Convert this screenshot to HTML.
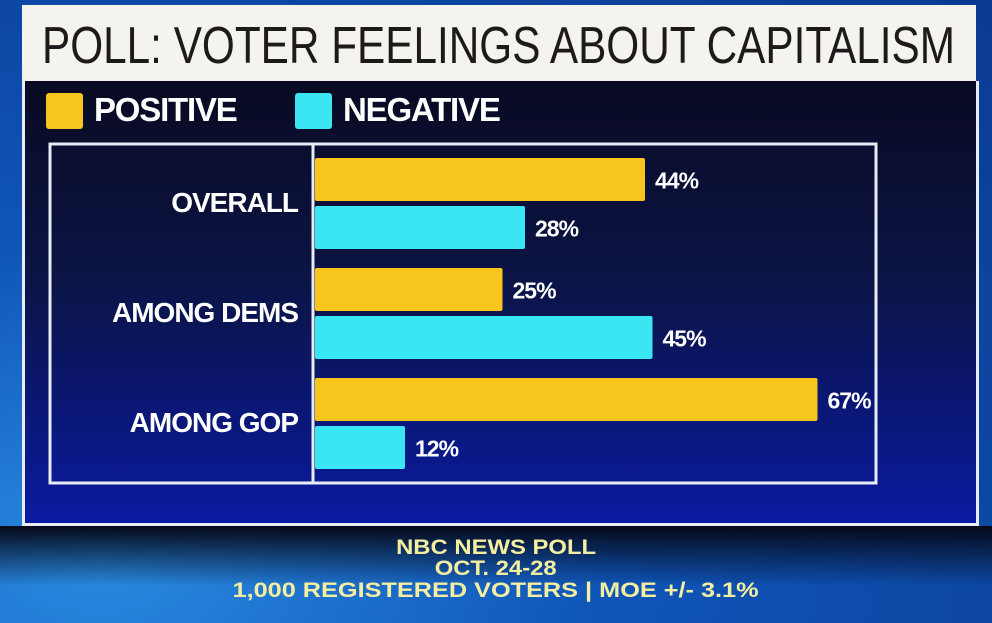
<!DOCTYPE html>
<html><head><meta charset="utf-8"><style>
html,body{margin:0;padding:0;}
body{width:992px;height:623px;position:relative;overflow:hidden;font-family:"Liberation Sans",sans-serif;
background:radial-gradient(ellipse at 10% 90%,#2a8ae0 0%,#0f55b8 40%,#0a3a90 100%);}
.abs{position:absolute;}
#title{left:22px;top:5px;width:954px;height:76px;background:#f4f3ee;overflow:hidden;}
#title span{position:absolute;left:20px;top:11px;font-size:52px;color:#1e1a1c;transform-origin:left;white-space:nowrap;}
#panel{left:22px;top:81px;width:951px;height:442px;border:3px solid #e8ecf5;border-top:none;background:linear-gradient(#090a22 0%,#0b1445 45%,#0a1aa0 100%);}
.leg{font-size:33px;font-weight:bold;color:#fff;letter-spacing:-1.2px;}
.fl{position:absolute;left:0;width:992px;text-align:center;color:#f4eea0;font-weight:bold;font-size:21px;white-space:nowrap;}
.fl span{display:inline-block;transform-origin:center;}
#footbg{left:0;top:526px;width:992px;height:60px;background:linear-gradient(#050818 0%,rgba(5,8,24,0.6) 40%,rgba(5,8,24,0) 100%);}
</style></head><body>
<div id="title" class="abs"><span id="tt">POLL: VOTER FEELINGS ABOUT CAPITALISM</span></div>
<div id="panel" class="abs"></div>
<div class="abs" style="left:46px;top:93px;width:37px;height:36px;background:#f7c51c;border-radius:3px"></div>
<div class="abs leg" style="left:94px;top:91px">POSITIVE</div>
<div class="abs" style="left:295px;top:93px;width:37px;height:36px;background:#3ae6f2;border-radius:3px"></div>
<div class="abs leg" style="left:343px;top:91px">NEGATIVE</div>
<div id="footbg" class="abs"></div>
<svg class="abs" style="left:0;top:0" width="992" height="623">
<rect x="50" y="144" width="826" height="339" fill="none" stroke="#e8ecf5" stroke-width="3"/>
<line x1="313" y1="144" x2="313" y2="483" stroke="#e8ecf5" stroke-width="3"/>
<g id="g"></g>
</svg>
<div class="fl" style="top:536px"><span data-w="200">NBC NEWS POLL</span></div>
<div class="fl" style="top:557px"><span data-w="122">OCT. 24-28</span></div>
<div class="fl" style="top:579px"><span data-w="526">1,000 REGISTERED VOTERS | MOE +/- 3.1%</span></div>
<script>
const categories=["OVERALL","AMONG DEMS","AMONG GOP"];
const positive=[44,25,67];
const negative=[28,45,12];
const x0=315, pxPer=7.5, top0=158, groupStep=110, barH=43, gap=5;
const xs=v=>x0+v*pxPer;
const g=document.getElementById('g');
const NS='http://www.w3.org/2000/svg';
function mk(t,a){const e=document.createElementNS(NS,t);for(const k in a)e.setAttribute(k,a[k]);g.appendChild(e);return e;}
categories.forEach((c,i)=>{
  const y=top0+i*groupStep;
  const lab=mk('text',{x:298,y:y+barH+11,'text-anchor':'end','font-size':28,'font-weight':'bold',fill:'#fff','letter-spacing':'-1','font-family':'Liberation Sans'});
  lab.textContent=c;
  
  
  [[positive[i],'#f7c51c',y,'bar-positive'],[negative[i],'#3ae6f2',y+barH+gap,'bar-negative']].forEach(([v,col,yy,nm])=>{
    const r=mk('rect',{x:x0,y:yy,width:xs(v)-x0,height:barH,fill:col,rx:2});
    
    
    const t=mk('text',{x:xs(v)+10,y:yy+barH/2+9,'font-size':23,'font-weight':'bold',fill:'#fff','letter-spacing':'-1','font-family':'Liberation Sans'});
    t.textContent=v+'%';
    
    
  });
});
const tt=document.getElementById('tt');
tt.style.transform='scaleX('+(913/tt.getBoundingClientRect().width)+')';
document.querySelectorAll('.fl span').forEach(s=>{s.style.transform='scaleX('+(s.dataset.w/s.getBoundingClientRect().width)+')';});
</script>
</body></html>
